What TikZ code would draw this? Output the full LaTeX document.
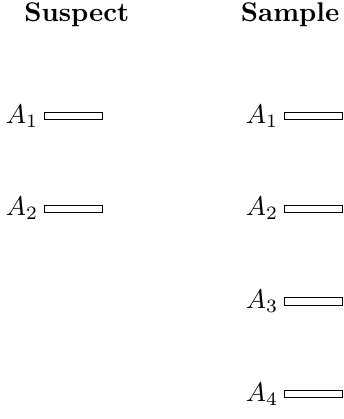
\documentclass[tikz,border=0pt]{standalone}
\usepackage{tikz}

\begin{document}
\begin{tikzpicture}[band/.style={draw, fill=white, minimum width=0.75cm, minimum height=0.095cm, inner sep=0pt}, head/.style={font=\bfseries}, tag/.style={left, inner sep=2pt}]
			\useasboundingbox (0,0) rectangle (4.465,-5.454);
			\node[head] (suspect) at (1.0,-0.19) {Suspect};
			\node[head] (sample) at (3.776,-0.19) {Sample};
			\foreach \i in {1,2}{
				\node[band] (sus\i) at (0.956,{-1.51-1.207*(\i-1)}) {};
				\node[tag] (suslab\i) at (sus\i.west) {$A_\i$};
			}
			\foreach \i in {1,...,4}{
				\node[band] (sam\i) at (4.082,{-1.51-1.207*(\i-1)}) {};
				\node[tag] (samlab\i) at (sam\i.west) {$A_\i$};
			}
			\end{tikzpicture}
\end{document}
